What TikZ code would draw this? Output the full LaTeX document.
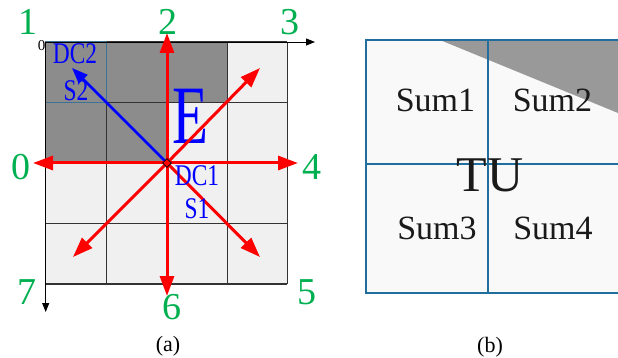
\documentclass[tikz,border=0pt]{standalone}
\usepackage{fontspec}
\setmainfont{Liberation Serif}
\newfontfamily\condfont[FakeStretch=0.78]{Liberation Serif}
\newfontfamily\efont[FakeStretch=0.71]{Liberation Serif}
\usetikzlibrary{arrows.meta,shapes.geometric}
\definecolor{dgreen}{HTML}{00B050}
\definecolor{gridfill}{HTML}{F0F0F0}
\definecolor{darkfill}{HTML}{8C8C8C}
\definecolor{gridline}{HTML}{333333}
\definecolor{tublue}{HTML}{1F6E9E}
\definecolor{tufill}{HTML}{F9F9F9}
\definecolor{tugray}{HTML}{999999}
\definecolor{sumtext}{HTML}{1A1A1A}
\begin{document}
\begin{tikzpicture}[x=1pt,y=-1pt,
  dirlabel/.style={text=dgreen,font=\fontsize{38}{38}\selectfont,inner sep=0pt},
  bluelabel/.style={text=blue,font=\condfont\fontsize{30}{30}\selectfont,inner sep=0pt},
  sumlabel/.style={text=sumtext,font=\fontsize{34}{34}\selectfont,inner sep=0pt},
  caption/.style={text=black,font=\fontsize{22}{22}\selectfont,inner sep=0pt},
  redarrow/.style={draw=red,line width=3pt,-{Triangle[length=20pt,width=14pt]}},
  bluearrow/.style={draw=blue,line width=2.5pt,-{Triangle[length=16pt,width=12pt]}},
  axisarrow/.style={draw=black,line width=0.8pt,-{Triangle[length=9pt,width=7pt]}},
  gridstroke/.style={draw=gridline,line width=1.2pt},
  tuline/.style={draw=tublue,line width=1.8pt}]
\useasboundingbox (0,0) rectangle (618,358);

% ---------- panel (a) ----------
\fill[gridfill] (45.7,42) rectangle (287.3,284);
\fill[darkfill] (45.7,42) rectangle (227.3,102.7);
\fill[darkfill] (45.7,102.7) rectangle (167,163);
\foreach \x in {45.7,106.7,227.3,287.3} \draw[gridstroke] (\x,42) -- (\x,284);
\foreach \y in {42,102.7,223.3,284} \draw[gridstroke] (45.7,\y) -- (287.3,\y);
\draw[draw=tublue!70!gray,line width=1pt] (45.7,42) rectangle (106.7,102.7);

% axes
\coordinate (o) at (45.7,42);
\coordinate (xend) at (315,42);
\coordinate (yend) at (45.7,312);
\draw[axisarrow] (o) -- (xend);
\draw[axisarrow] (o) -- (yend);
\node[font=\fontsize{15}{15}\selectfont,inner sep=0pt] (zero) at (41.5,46) {0};

% E
\node[text=blue,font=\efont\fontsize{83}{83}\selectfont,inner sep=0pt] (E) at (190,116) {E};

% centre and tips
\coordinate (c) at (167,163);
\coordinate (t0) at (33,163);
\coordinate (t2) at (167,33);
\coordinate (t3) at (260,68);
\coordinate (t4) at (298,163);
\coordinate (t5) at (260,257);
\coordinate (t6) at (167,296);
\coordinate (t7) at (73,257);
\coordinate (tb) at (72,68);

\draw[bluearrow] (c) -- (tb);
\draw[redarrow] (c) -- (t0);
\draw[redarrow] (c) -- (t2);
\draw[redarrow] (c) -- (t3);
\draw[redarrow] (c) -- (t4);
\draw[redarrow] (c) -- (t5);
\draw[redarrow] (c) -- (t6);
\draw[redarrow] (c) -- (t7);
\node[diamond,fill=red,draw=black,line width=0.8pt,inner sep=0pt,minimum size=9pt] (mk) at (c) {};

% blue labels
\node[bluelabel] (dc2) at (75,54) {DC2};
\node[bluelabel] (s2) at (76,91) {S2};
\node[bluelabel] (dc1) at (197,176) {DC1};
\node[bluelabel] (s1) at (197,209) {S1};

% direction labels
\node[dirlabel] (d0) at (21,167) {0};
\node[dirlabel] (d1) at (28,22) {1};
\node[dirlabel] (d2) at (168,22) {2};
\node[dirlabel] (d3) at (290,22) {3};
\node[dirlabel] (d4) at (312,167) {4};
\node[dirlabel] (d5) at (307,292) {5};
\node[dirlabel] (d6) at (172,307) {6};
\node[dirlabel] (d7) at (27,292) {7};

\node[caption] (capa) at (168,346) {(a)};

% ---------- panel (b) ----------
\fill[tufill] (365.7,40) rectangle (618,293.3);
\fill[tugray] (440,40) -- (618,40) -- (618,113) -- cycle;
\draw[tuline] (618,40) -- (365.7,40) -- (365.7,293.3) -- (618,293.3);
\draw[tuline] (488.3,40) -- (488.3,293.3);
\draw[tuline] (365.7,164) -- (618,164);

\node[sumlabel] (sum1) at (435.5,100) {Sum1};
\node[sumlabel] (sum2) at (552.5,100) {Sum2};
\node[sumlabel] (sum3) at (437,228) {Sum3};
\node[sumlabel] (sum4) at (553,228) {Sum4};
\node[text=sumtext,font=\fontsize{50}{50}\selectfont,inner sep=0pt] (tu) at (490,175) {TU};

\node[caption] (capb) at (490,347) {(b)};
\end{tikzpicture}
\end{document}
